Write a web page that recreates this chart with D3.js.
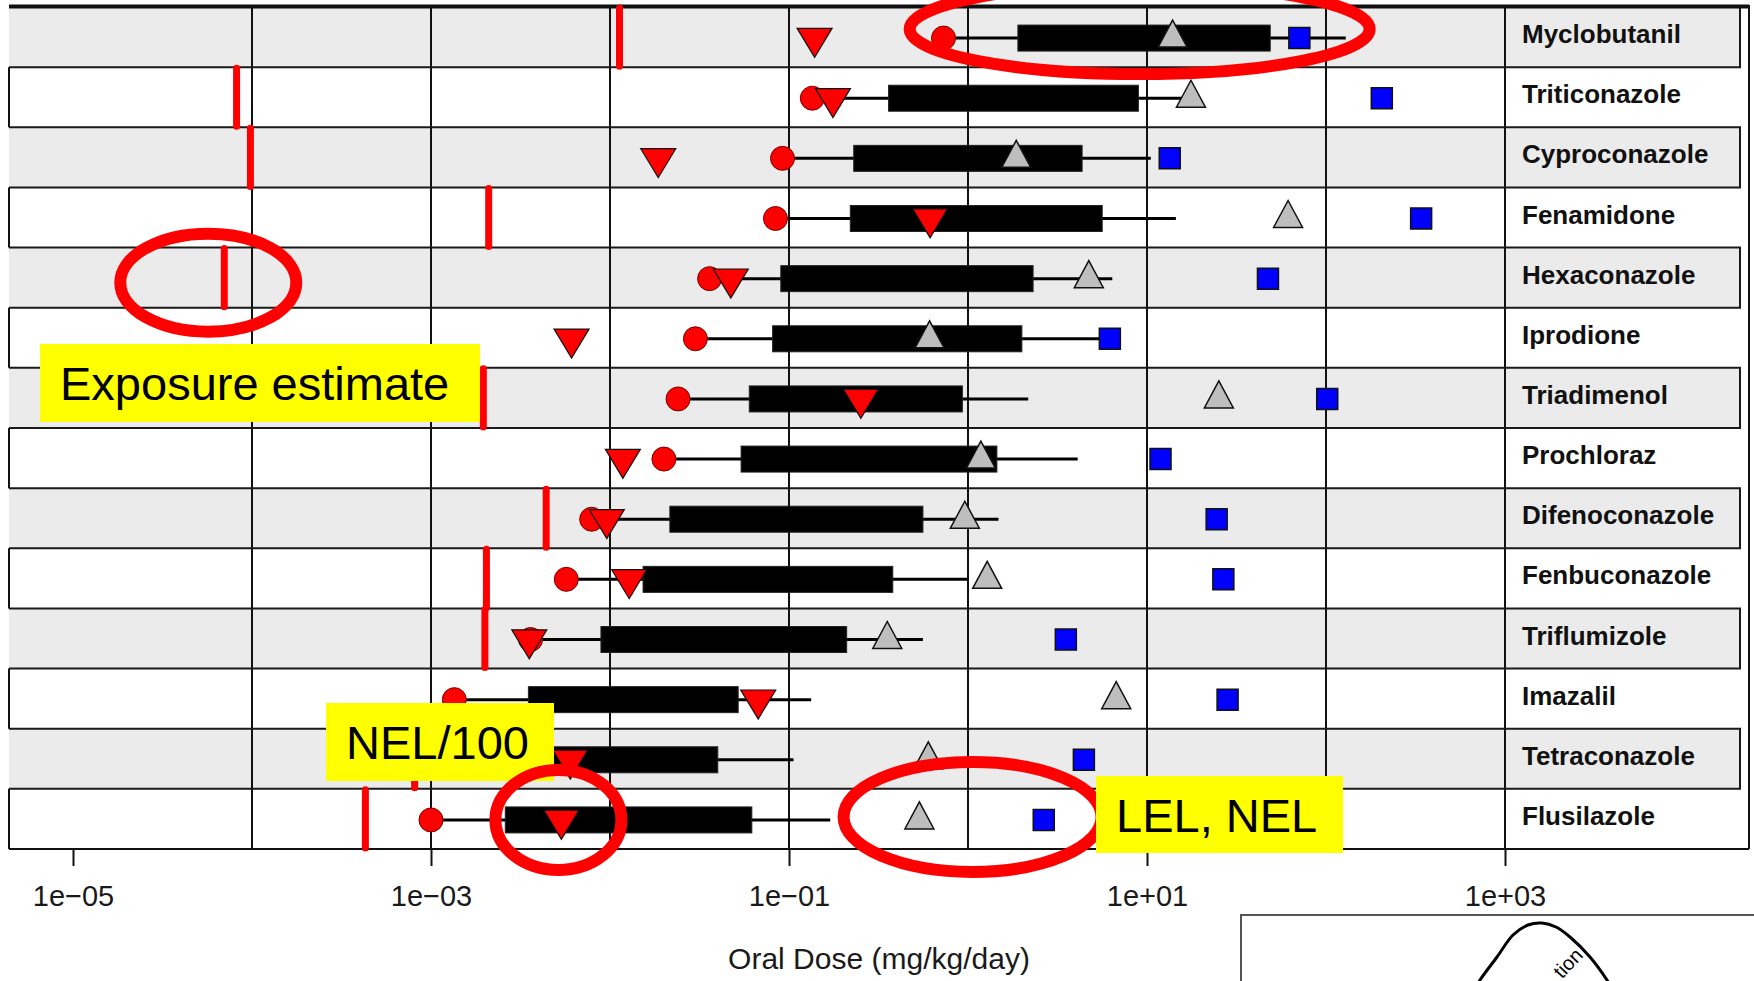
<!DOCTYPE html>
<html>
<head>
<meta charset="utf-8">
<script src="https://cdn.jsdelivr.net/npm/d3@7"></script>
<style>
  html, body { margin: 0; padding: 0; background: #fff; }
  svg { display: block; }
  text { font-family: "Liberation Sans", Arial, Helvetica, sans-serif; }
</style>
</head>
<body>
<svg id="chart" width="1754" height="981"></svg>
<script>
// Conazole fungicides: oral dose comparison (mg/kg/day)
const chemicals = ["Myclobutanil", "Triticonazole", "Cyproconazole", "Fenamidone",
  "Hexaconazole", "Iprodione", "Triadimenol", "Prochloraz", "Difenoconazole",
  "Fenbuconazole", "Triflumizole", "Imazalil", "Tetraconazole", "Flusilazole"];

// in vitro derived oral dose range: whisker ends and central box
const doseMin  = [0.73, 0.135, 0.092, 0.084, 0.036, 0.030, 0.024, 0.020, 0.0079, 0.0057, 0.0036, 0.00135, 0.0014, 0.0010];
const boxLow   = [1.9, 0.36, 0.23, 0.22, 0.090, 0.081, 0.060, 0.054, 0.0216, 0.0153, 0.0089, 0.0035, 0.0040, 0.0026];
const boxHigh  = [48.8, 8.95, 4.34, 5.62, 2.31, 2.0, 0.93, 1.45, 0.56, 0.38, 0.21, 0.052, 0.040, 0.062];
const doseMax  = [129, 15.8, 10.5, 14.5, 6.4, 5.8, 2.17, 4.1, 1.48, 0.99, 0.56, 0.133, 0.106, 0.170];

// in vivo effect levels
const nel = [13.9, 17.6, 1.86, 61.4, 4.73, 0.61, 25.2, 1.18, 0.96, 1.28, 0.354, 6.73, 0.60, 0.535];
const lel = [71, 205, 13.4, 340, 47.4, 6.2, 101.6, 11.9, 24.5, 26.7, 3.52, 28.2, 4.44, 2.65];

// exposure estimates (null where none is available)
const exposure = [0.0113, 8.2e-5, 9.8e-5, 0.0021, 7.0e-5, null, 0.00196, null, 0.0044, 0.00204, 0.0020, null, 0.00081, 0.00043];

const tickValues = [1e-5, 1e-3, 1e-1, 1e1, 1e3];
const gridValues = [1e-4, 1e-3, 1e-2, 1e-1, 1, 1e1, 1e2, 1e3];
const axisTitle = "Oral Dose (mg/kg/day)";

// ---- layout ----
const frame = { left: 9, right: 1749, top: 7, bottom: 849 };
const shadeRight = 1740;
const labelX = 1522;

const svg = d3.select("#chart");

const x = d3.scaleLog().domain([1e-5, 1e3]).range([73, 1505]);
const y = d3.scaleBand().domain(chemicals).range([frame.top, frame.bottom]).paddingInner(0).paddingOuter(0);
const bw = y.bandwidth();
const cy = c => y(c) + bw / 2 + 1;

const rows = chemicals.map((c, i) => ({
  name: c, i,
  min: doseMin[i], lo: boxLow[i], hi: boxHigh[i], max: doseMax[i],
  nel: nel[i], lel: lel[i], exp: exposure[i]
}));

// background frame
svg.append("rect")
  .attr("x", frame.left).attr("y", frame.top)
  .attr("width", frame.right - frame.left).attr("height", frame.bottom - frame.top)
  .attr("fill", "#fff");

// alternating shaded rows
const shaded = rows.filter(r => r.i % 2 === 0);
svg.append("g").selectAll("rect").data(shaded).join("rect")
  .attr("x", frame.left).attr("y", r => y(r.name))
  .attr("width", shadeRight - frame.left).attr("height", bw)
  .attr("fill", "#ebebeb");

// vertical decade grid
svg.append("g").selectAll("line").data(gridValues).join("line")
  .attr("x1", d => x(d)).attr("x2", d => x(d))
  .attr("y1", frame.top).attr("y2", frame.bottom)
  .attr("stroke", "#111").attr("stroke-width", 2);

// row borders of shaded rows
const borders = svg.append("g").attr("stroke", "#1a1a1a").attr("stroke-width", 2).attr("fill", "none");
shaded.forEach(r => {
  const t = y(r.name), b = t + bw;
  borders.append("path").attr("d", `M${frame.left},${t}H${shadeRight}V${b}H${frame.left}`);
});

// outer frame
const outer = svg.append("g").attr("stroke", "#111").attr("fill", "none");
outer.append("line").attr("x1", frame.left).attr("x2", frame.right)
  .attr("y1", frame.top - 0.5).attr("y2", frame.top - 0.5).attr("stroke-width", 4);
outer.append("line").attr("x1", frame.right).attr("x2", frame.right)
  .attr("y1", frame.top - 2).attr("y2", frame.bottom).attr("stroke-width", 2);
outer.append("line").attr("x1", frame.left).attr("x2", frame.right)
  .attr("y1", frame.bottom).attr("y2", frame.bottom).attr("stroke-width", 2);
rows.filter(r => r.i % 2 === 1).forEach(r => {
  outer.append("line").attr("x1", frame.left).attr("x2", frame.left)
    .attr("y1", y(r.name)).attr("y2", y(r.name) + bw).attr("stroke-width", 2);
});

// exposure estimates
svg.append("g").selectAll("line").data(rows.filter(r => r.exp != null)).join("line")
  .attr("x1", r => x(r.exp)).attr("x2", r => x(r.exp))
  .attr("y1", r => y(r.name) + 1).attr("y2", r => y(r.name) + bw - 1)
  .attr("stroke", "#ff0000").attr("stroke-width", 7).attr("stroke-linecap", "round");

// whiskers
svg.append("g").selectAll("line").data(rows).join("line")
  .attr("x1", r => x(r.min)).attr("x2", r => x(r.max))
  .attr("y1", r => cy(r.name)).attr("y2", r => cy(r.name))
  .attr("stroke", "#000").attr("stroke-width", 3);

// central boxes
const boxH = 26;
svg.append("g").selectAll("rect").data(rows).join("rect")
  .attr("x", r => x(r.lo)).attr("width", r => x(r.hi) - x(r.lo))
  .attr("y", r => cy(r.name) - boxH / 2).attr("height", boxH)
  .attr("fill", "#000").attr("stroke", "#222").attr("stroke-width", 1);

// marker shapes (centroid at origin)
const triangle = (w, h, down) => ({
  draw(ctx) {
    const s = down ? 1 : -1;
    ctx.moveTo(-w / 2, -s * h / 3);
    ctx.lineTo(w / 2, -s * h / 3);
    ctx.lineTo(0, s * 2 * h / 3);
    ctx.closePath();
  }
});
const square = (w, h) => ({
  draw(ctx) { ctx.rect(-w / 2, -h / 2, w, h); }
});

// lower end of dose range
svg.append("g").selectAll("circle").data(rows).join("circle")
  .attr("cx", r => x(r.min)).attr("cy", r => cy(r.name)).attr("r", 12)
  .attr("fill", "#ff0000").attr("stroke", "#7a0000").attr("stroke-width", 1);

// NEL/100
svg.append("g").selectAll("path").data(rows).join("path")
  .attr("transform", r => `translate(${x(r.nel / 100)},${cy(r.name)})`)
  .attr("d", d3.symbol().type(triangle(35, 29, true)))
  .attr("fill", "#ff0000").attr("stroke", "#111").attr("stroke-width", 1.2);

// NEL
svg.append("g").selectAll("path").data(rows).join("path")
  .attr("transform", r => `translate(${x(r.nel)},${cy(r.name)})`)
  .attr("d", d3.symbol().type(triangle(29, 27, false)))
  .attr("fill", "#bebebe").attr("stroke", "#111").attr("stroke-width", 1.5);

// LEL
svg.append("g").selectAll("path").data(rows).join("path")
  .attr("transform", r => `translate(${x(r.lel)},${cy(r.name)})`)
  .attr("d", d3.symbol().type(square(21, 21)))
  .attr("fill", "#0000ff").attr("stroke", "#111").attr("stroke-width", 1.5);

// chemical names
svg.append("g").selectAll("text").data(rows).join("text")
  .attr("x", labelX).attr("y", r => y(r.name) + bw / 2 + 6)
  .attr("font-size", 26).attr("font-weight", "bold").attr("fill", "#111")
  .text(r => r.name);

// x axis
const fmt = v => {
  const e = Math.round(Math.log10(v));
  return "1e" + (e < 0 ? "\u2212" : "+") + String(Math.abs(e)).padStart(2, "0");
};
const axisG = svg.append("g").attr("transform", `translate(0,${frame.bottom})`)
  .call(d3.axisBottom(x).tickValues(tickValues).tickSize(17).tickFormat(fmt));
axisG.select(".domain").remove();
axisG.selectAll(".tick line").attr("stroke", "#111").attr("stroke-width", 2);
axisG.selectAll(".tick text")
  .attr("dy", null).attr("y", 57)
  .attr("font-size", 29).attr("fill", "#1a1a1a")
  .attr("font-family", "'Liberation Sans', Arial, sans-serif");

svg.append("text")
  .attr("x", (frame.left + frame.right) / 2).attr("y", 969)
  .attr("text-anchor", "middle").attr("font-size", 30).attr("fill", "#1a1a1a")
  .text(axisTitle);

// ---- callouts ----
const red = "#ff0000";
const ell = svg.append("g").attr("fill", "none").attr("stroke", red).attr("stroke-width", 12);

// exposure estimate callout
ell.append("ellipse")
  .attr("cx", x(exposure[4]) - 16).attr("cy", cy(chemicals[4]) + 4)
  .attr("rx", 88).attr("ry", 49);
// dose range callout (top row)
ell.append("ellipse")
  .attr("cx", (x(doseMin[0]) + x(doseMax[0])) / 2 - 5).attr("cy", cy(chemicals[0]) - 9)
  .attr("rx", 230).attr("ry", 45);

const callout = (bx, by, w, h, label) => {
  svg.append("rect").attr("x", bx).attr("y", by).attr("width", w).attr("height", h).attr("fill", "#ffff00");
  svg.append("text").attr("x", bx + 20).attr("y", by + 56)
    .attr("font-size", 47).attr("fill", "#000").text(label);
};
callout(40, 344, 440, 78, "Exposure estimate");
callout(326, 703, 228, 78, "NEL/100");

const last = chemicals.length - 1;
// NEL/100 callout ring
svg.append("ellipse")
  .attr("cx", x(nel[last] / 100) - 3).attr("cy", cy(chemicals[last]))
  .attr("rx", 63).attr("ry", 50)
  .attr("fill", "none").attr("stroke", red).attr("stroke-width", 12);
// NEL, LEL callout ring
svg.append("ellipse")
  .attr("cx", (x(nel[last]) + x(lel[last])) / 2 - 9).attr("cy", cy(chemicals[last]) - 3)
  .attr("rx", 129).attr("ry", 55)
  .attr("fill", "none").attr("stroke", red).attr("stroke-width", 12);
callout(1096, 776, 247, 77, "LEL, NEL");

// partially visible inset panel at lower right
const inset = svg.append("g");
inset.append("rect").attr("x", 1241).attr("y", 915).attr("width", 600).attr("height", 200)
  .attr("fill", "#fff").attr("stroke", "#555").attr("stroke-width", 2);
const bell = [[1468, 1000], [1480, 980], [1497, 957], [1513, 935], [1528, 925], [1542, 923],
  [1556, 927], [1570, 937], [1590, 957], [1607, 980], [1619, 1000]];
inset.append("path").attr("d", d3.line().curve(d3.curveCatmullRom)(bell))
  .attr("fill", "none").attr("stroke", "#000").attr("stroke-width", 3);
inset.append("text")
  .attr("transform", "translate(1584,956) rotate(-47)")
  .attr("text-anchor", "end").attr("font-size", 20).attr("fill", "#000")
  .text("tion");
</script>
</body>
</html>
